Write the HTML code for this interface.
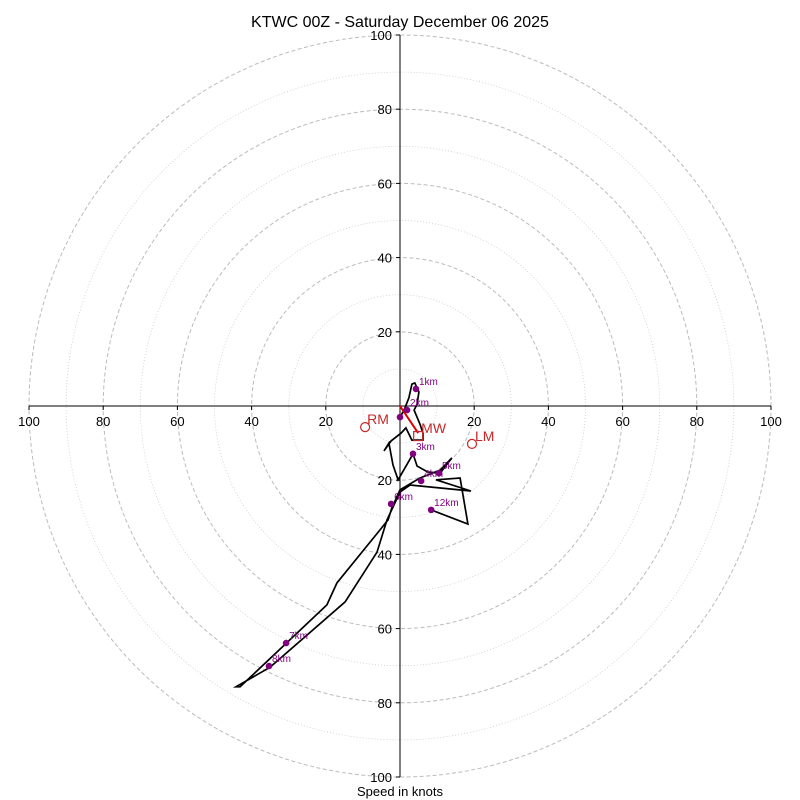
<!DOCTYPE html>
<html><head><meta charset="utf-8"><style>
body{margin:0;background:#fff}
svg{display:block;font-family:"Liberation Sans","DejaVu Sans",sans-serif}
</style></head><body>
<svg id="chart" width="800" height="800" viewBox="0 0 800 800">
<text x="400" y="27" text-anchor="middle" font-size="16">KTWC 00Z - Saturday December 06 2025</text>
<text x="400" y="796" text-anchor="middle" font-size="13">Speed in knots</text>
<g id="rings"></g><g id="axes"></g><g id="trace"></g><g id="marks"></g>
</svg>
<script>
const ringValues=[10,20,30,40,50,60,70,80,90,100];
const tickLabels=[20,40,60,80,100];
const windU=[0,1.1,2.4,3.2,4.0,5.1,4.6,3.8,5.4,6.2,6.2,3.2,1.6,0.3,-2.4,-4.3,-3.0,-1.9,-0.5,3.5,4.6,7.5,10.8,14.0,10.8,5.4,0,-2.2,-3.2,-17.0,-19.7,-43.1,-44.2,-35.0,-14.8,-6.2,-3.5,0,2.7,19.1,9.7,16.2,18.3,8.4];
const windV=[-3.0,-1.1,2.2,5.9,6.2,3.8,0.5,-1.1,-4.9,-7.3,-9.2,-9.2,-5.9,-7.3,-9.4,-12.1,-10.0,-15.9,-19.9,-12.9,-16.2,-17.8,-18.1,-14.0,-17.3,-19.4,-22.6,-27.5,-30.7,-47.7,-53.6,-75.7,-75.7,-70.4,-52.8,-39.4,-30.7,-23.2,-21.3,-22.9,-19.9,-19.4,-31.8,-28.0];
const heightLabels=["","1km","2km","3km","4km","5km","6km","7km","8km","12km"];
const heightU=[0,4.3,1.9,3.5,5.7,10.5,-2.4,-30.7,-35.3,8.4];
const heightV=[-3.0,4.6,-1.1,-12.9,-20.2,-18.1,-26.4,-63.9,-70.1,-28.0];
const motionNames=["RM","LM"];
const motionU=[-9.4,19.4];
const motionV=[-5.7,-10.2];
const meanWindU=4.9, meanWindV=-8.1;
const shearU=4.9, shearV=-7.3;

const NS="http://www.w3.org/2000/svg";
const cx=400,cy=406,R=371,maxV=100;
const sx=u=>cx+u*R/maxV, sy=v=>cy-v*R/maxV, sr=r=>r*R/maxV;
function mk(tag,parent,attrs){const e=document.createElementNS(NS,tag);for(const k in attrs)e.setAttribute(k,attrs[k]);document.getElementById(parent).appendChild(e);return e;}

ringValues.forEach(r=>{
  const major=r%20===0;
  const c=mk('circle','rings',{cx:cx,cy:cy,r:sr(r),fill:'none',stroke:major?'#bbb':'#ccc','stroke-width':major?1:0.8,'stroke-dasharray':major?'4,2.5':'1,2'});
  
  
});
let a=mk('line','axes',{x1:sx(-100),y1:cy,x2:sx(100),y2:cy,stroke:'#000','stroke-width':1});


a=mk('line','axes',{x1:cx,y1:sy(100),x2:cx,y2:sy(-100),stroke:'#000','stroke-width':1});


tickLabels.forEach(t=>{
  [-1,1].forEach(s=>{
    mk('line','axes',{x1:sx(s*t),y1:cy,x2:sx(s*t),y2:cy+4,stroke:'#000'});
    let tx=mk('text','axes',{x:sx(s*t),y:cy+20,'text-anchor':'middle','font-size':13});
    tx.textContent=t;
    
    
    mk('line','axes',{x1:cx-4,y1:sy(s*t),x2:cx,y2:sy(s*t),stroke:'#000'});
    let ty=mk('text','axes',{x:cx-8,y:sy(s*t)+5,'text-anchor':'end','font-size':13});
    ty.textContent=t;
    
    
  });
});
const pts=windU.map((u,i)=>sx(u).toFixed(1)+','+sy(windV[i]).toFixed(1)).join(' ');
const pl=mk('polyline','trace',{points:pts,fill:'none',stroke:'#000','stroke-width':1.7,'stroke-linejoin':'miter','stroke-miterlimit':4});


const sh=mk('line','trace',{x1:sx(0),y1:sy(0),x2:sx(shearU),y2:sy(shearV),stroke:'#e00000','stroke-width':2});


heightLabels.forEach((l,i)=>{
  const d=mk('circle','marks',{cx:sx(heightU[i]),cy:sy(heightV[i]),r:3.3,fill:'#800080'});
  
  
  if(l){const t=mk('text','marks',{x:sx(heightU[i])+3,y:sy(heightV[i])-4,'font-size':10,fill:'#800080'});
  t.textContent=l;
  
  }
});
motionNames.forEach((n,i)=>{
  const c=mk('circle','marks',{cx:sx(motionU[i]),cy:sy(motionV[i]),r:4.5,fill:'none',stroke:'#c62828','stroke-width':1.2});
  
  
  const t=mk('text','marks',{x:sx(motionU[i])+(n==='RM'?2:3),y:sy(motionV[i])-3,'font-size':14,fill:'#c62828'});
  t.textContent=n;
  
  
});
const mw=mk('rect','marks',{x:sx(meanWindU)-4.5,y:sy(meanWindV)-4.5,width:9,height:9,fill:'none',stroke:'#c62828','stroke-width':1.2});


const mt=mk('text','marks',{x:sx(meanWindU)+3,y:sy(meanWindV)-3,'font-size':14,fill:'#c62828'});
mt.textContent='MW';


</script>
</body></html>
